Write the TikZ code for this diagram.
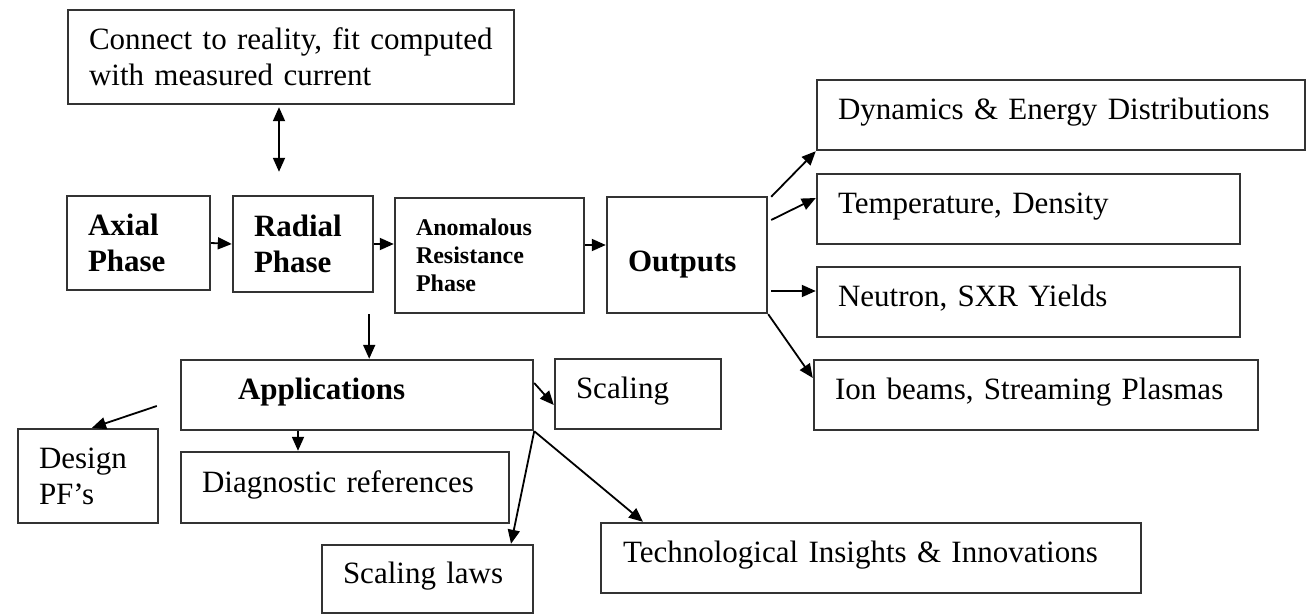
\documentclass[tikz,border=0pt]{standalone}
\usepackage{fontspec}
\setmainfont{Liberation Serif}
\usetikzlibrary{arrows.meta,calc}
\tikzset{
  box/.style={draw=black!80, line width=2.4pt, rectangle, inner xsep=21pt, inner ysep=0pt,
    align=left, font=\fontsize{31}{36}\selectfont},
  one/.style={text height=22pt, text depth=13pt},
  arr/.style={draw=black, line width=1.8pt, -{Triangle[length=14pt,width=12pt]}},
  dbl/.style={draw=black, line width=1.8pt, {Triangle[length=14pt,width=12pt]}-{Triangle[length=14pt,width=12pt]}},
}
\begin{document}
\begin{tikzpicture}[x=1pt,y=-1pt]
\useasboundingbox (0,0) rectangle (1307,615);
% boxes
\node[box, minimum width=446pt, text width=404pt, minimum height=94pt] (conn) at (291,57)
  {Connect to reality, fit computed\\with measured current};
\node[box, minimum width=143pt, text width=101pt, minimum height=94pt, font=\fontsize{31}{36}\selectfont\bfseries] (ax) at (138.5,243) {Axial\\Phase};
\node[box, minimum width=140pt, text width=98pt, minimum height=96pt, font=\fontsize{31}{36}\selectfont\bfseries] (rad) at (303,244) {Radial\\Phase};
\node[box, minimum width=189pt, text width=147pt, minimum height=115pt, font=\fontsize{24}{28}\selectfont\bfseries] (anom) at (489.5,255.5) {Anomalous\\Resistance\\Phase};
\node[box, minimum width=160pt, text width=118pt, minimum height=116pt, text height=40pt, text depth=7pt, font=\fontsize{31}{36}\selectfont\bfseries] (out) at (687,255) {Outputs};
\node[box, one, minimum width=488pt, text width=446pt, minimum height=70pt] (dyn) at (1061,115) {Dynamics \& Energy Distributions};
\node[box, one, minimum width=423pt, text width=381pt, minimum height=70pt] (temp) at (1028.5,209) {Temperature, Density};
\node[box, one, minimum width=423pt, text width=381pt, minimum height=70pt] (neut) at (1028.5,302) {Neutron, SXR Yields};
\node[box, one, minimum width=444pt, text width=402pt, minimum height=70pt] (ion) at (1036,395) {Ion beams, Streaming Plasmas};
\node[box, one, minimum width=352pt, text width=310pt, minimum height=70pt, font=\fontsize{31}{36}\selectfont\bfseries] (app) at (357,395) {\hspace*{36pt}Applications};
\node[box, one, minimum width=166pt, text width=124pt, minimum height=70pt] (scal) at (638,394) {Scaling};
\node[box, minimum width=140pt, text width=98pt, minimum height=94pt] (des) at (88,476) {Design\\PF’s};
\node[box, one, minimum width=328pt, text width=286pt, minimum height=71pt] (diag) at (345,487.5) {Diagnostic references};
\node[box, one, minimum width=211pt, text width=169pt, minimum height=68pt] (sl) at (427.5,579) {Scaling laws};
\node[box, one, minimum width=540pt, text width=496pt, minimum height=70pt, inner xsep=22pt] (tech) at (871,558) {Technological Insights \& Innovations};
% free ends
\coordinate (dbla) at ([xshift=-12pt,yshift=-2pt]conn.south);
\coordinate (radout) at ([xshift=-5pt,yshift=-21pt]rad.south east);
\coordinate (desin) at ([xshift=-23pt,yshift=-11pt]app.west);
\coordinate (aoA) at ([yshift=10.5pt]anom.east);
\coordinate (onA) at ([xshift=3pt,yshift=-36pt]out.east);
\coordinate (adA) at ([xshift=-59pt]app.south);
% connectors
\draw[dbl, shorten >=23pt] (dbla) -- (dbla |- rad.north);
\draw[arr] (ax.east) -- (rad.west);
\draw[arr] (rad.east) -- (rad.east -| anom.west);
\draw[arr] (aoA) -- (aoA -| out.west);
\draw[arr] ([xshift=3pt,yshift=-1pt]out.north east) -- (dyn.south west);
\draw[arr] ([xshift=3pt,yshift=35pt]out.east) -- ([yshift=11pt]temp.west);
\draw[arr] (onA) -- (onA -| neut.west);
\draw[arr] (out.south east) -- ([yshift=17pt]ion.west);
\draw[arr] (radout) -- (radout |- app.north);
\draw[arr] (desin) -- ([xshift=4pt]des.north);
\draw[arr] (adA) -- (adA |- diag.north);
\draw[arr] ([yshift=12pt]app.east) -- ([yshift=-11pt]scal.west);
\draw[arr] (app.south east) -- ([xshift=83.5pt]sl.north);
\draw[arr] (app.south east) -- ([xshift=-228pt]tech.north);
\end{tikzpicture}
\end{document}
